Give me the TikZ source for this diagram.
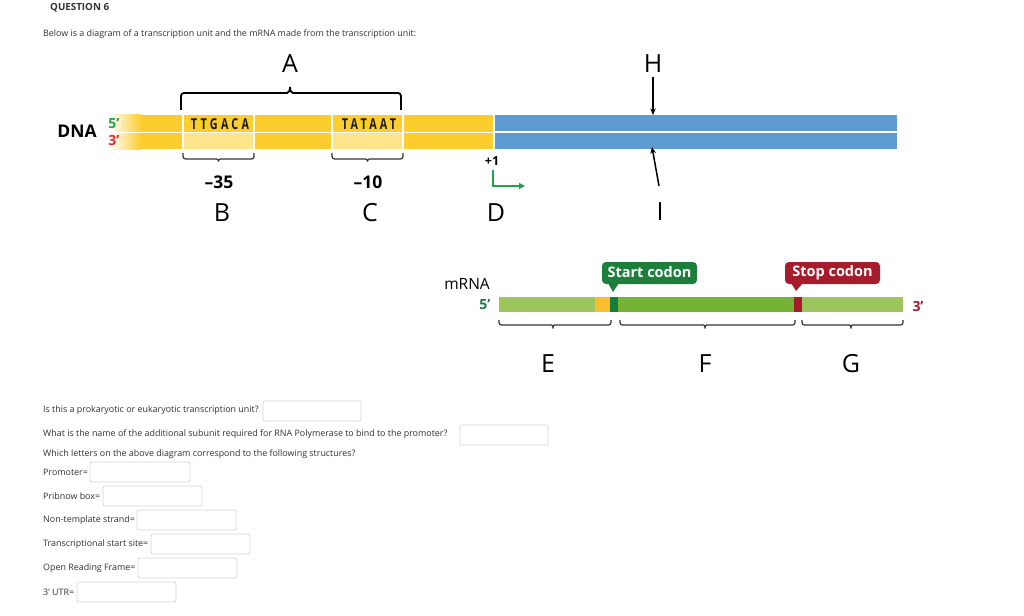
\documentclass[tikz,border=0pt]{standalone}
\usepackage{fontspec}
\setmainfont{Open Sans}
\newfontfamily\seqfont[LetterSpace=30]{Open Sans}
\usetikzlibrary{arrows.meta}
\definecolor{dnay}{HTML}{FDCD2F}
\definecolor{dnayl}{HTML}{FEE58C}
\definecolor{dnab}{HTML}{5E9BD3}
\definecolor{rnal}{HTML}{9CC65C}
\definecolor{rnam}{HTML}{74B334}
\definecolor{rnad}{HTML}{167D39}
\definecolor{rnao}{HTML}{F8BE2C}
\definecolor{codg}{HTML}{1C7F3B}
\definecolor{codr}{HTML}{A61C2C}
\definecolor{pgreen}{HTML}{22A24A}
\definecolor{pred}{HTML}{E3262E}
\definecolor{boxgray}{HTML}{D6D6D6}
\definecolor{qtext}{HTML}{333333}
\newcommand{\seqtext}[1]{\scalebox{0.72}[1]{\seqfont\bfseries\fontsize{15}{16}\selectfont #1}}
\begin{document}
\begin{tikzpicture}[x=1pt,y=-1pt,
  qtxt/.style={anchor=west,inner sep=0pt,font=\fontsize{8.9}{10}\selectfont,text=qtext},
  abox/.style={draw=boxgray,line width=0.7pt,rounded corners=2pt,fill=white},
  biglet/.style={inner sep=0pt,font=\fontsize{25}{28}\selectfont},
  brk/.style={line width=1.8pt,rounded corners=3pt},
  sbrk/.style={line width=1.2pt,draw=black!80,rounded corners=2.5pt},
  seq/.style={inner sep=0pt,text=black!90},
  pnum/.style={inner sep=0pt,font=\bfseries\fontsize{17.5}{19}\selectfont},
  codon/.style={inner sep=0pt,text=white,font=\bfseries\fontsize{14.5}{16}\selectfont},
  sep/.style={white,line width=1.3pt},
  arr/.style={line width=1.5pt,-{Stealth[length=6.5pt,width=5.5pt]}}
]
\useasboundingbox (0,0) rectangle (1024,615);
\fill[white] (0,0) rectangle (1024,615);

% header
\node[anchor=west,inner sep=0pt,font=\bfseries\fontsize{9.8}{11}\selectfont,text=qtext] (q6) at (50,8) {QUESTION 6};
\node[qtxt] (intro) at (43,34) {Below is a diagram of a transcription unit and the mRNA made from the transcription unit:};

% DNA strands
\fill[dnay] (140,115) rectangle (493,131.5);
\fill[dnay] (140,133) rectangle (493,149);
\shade[left color=white,right color=dnay] (110,115) rectangle (141,131.5);
\shade[left color=white,right color=dnay] (110,133) rectangle (141,149);
\fill[dnayl] (183,133) rectangle (254,149);
\fill[dnayl] (332,133) rectangle (403,149);
\fill[dnab] (495,115) rectangle (897,130.5);
\fill[dnab] (495,133) rectangle (897,148.5);
\foreach \x in {183,254,332,403,494}{\draw[sep] (\x,114) -- (\x,150);}
\draw[sep] (110,132.2) -- (898,132.2);

\node[seq] (ttgaca) at (220,124) {\seqtext{TTGACA}};
\node[seq] (tataat) at (369,124) {\seqtext{TATAAT}};

\node[inner sep=0pt,font=\bfseries\fontsize{17.5}{19}\selectfont] (dna) at (77,131) {DNA};
\node[inner sep=0pt,text=pgreen,font=\bfseries\fontsize{14}{15}\selectfont] (p5) at (114,124) {5’};
\node[inner sep=0pt,text=pred,font=\bfseries\fontsize{14}{15}\selectfont] (p3) at (114,140) {3’};

% bracket A
\draw[brk] (181,110) -- (181,93) -- (284,93) .. controls (289,93) and (290,90) .. (290,85)
  .. controls (290,90) and (291,93) .. (296,93) -- (401,93) -- (401,110);
\node[biglet] (A) at (290,64) {A};

% -35 and -10 braces
\draw[sbrk] (183,153) -- (183,159) -- (214,159) .. controls (217,159) and (218.5,160) .. (218.5,163)
  .. controls (218.5,160) and (220,159) .. (223,159) -- (254,159) -- (254,153);
\draw[sbrk] (332,153) -- (332,159) -- (363,159) .. controls (366,159) and (367.5,160) .. (367.5,163)
  .. controls (367.5,160) and (369,159) .. (372,159) -- (403,159) -- (403,153);
\node[pnum] (m35) at (219,182) {–35};
\node[pnum] (m10) at (368,182) {–10};
\node[biglet] (B) at (222,213) {B};
\node[biglet] (C) at (370,213) {C};

% +1 start
\node[inner sep=0pt,font=\bfseries\fontsize{12.5}{14}\selectfont] (plus1) at (492,161) {+1};
\coordinate (tss0) at (493,170);
\coordinate (tss1) at (493,186);
\coordinate (tss2) at (525,186);
\draw[pgreen,line width=1.5pt,-{Triangle[length=6pt,width=6pt]}] (tss0) -- (tss1) -- (tss2);
\node[biglet] (D) at (496,213) {D};

% H and I
\node[biglet] (H) at (653,64) {H};
\coordinate (Htip) at (653,115);
\draw[arr] (H.south) ++(0,4) -- (Htip);
\node[biglet] (I) at (660,212) {I};
\coordinate (Itip) at (652,147);
\draw[arr] (659,186) -- (Itip);

% mRNA
\node[inner sep=0pt,font=\fontsize{15.5}{17}\selectfont] (mrna) at (467,284) {mRNA};
\node[inner sep=0pt,text=codg,font=\bfseries\fontsize{14}{15}\selectfont] (r5) at (485,305) {5’};
\node[inner sep=0pt,text=codr,font=\bfseries\fontsize{14}{15}\selectfont] (r3) at (918,306) {3’};
\fill[rnal] (499,297) rectangle (595,312);
\fill[rnao] (595,297) rectangle (610,312);
\fill[rnad] (610,297) rectangle (618,312);
\fill[rnam] (618,297) rectangle (794,312);
\fill[codr] (794,297) rectangle (802,312);
\fill[rnal] (802,297) rectangle (903,312);

% callouts
\fill[codg,rounded corners=4pt] (602,262) rectangle (697,284);
\fill[codg] (608,283) -- (613,292) -- (619,283) -- cycle;
\node[codon] (start) at (649.5,272.5) {Start codon};
\fill[codr,rounded corners=4pt] (785,262) rectangle (880,284);
\fill[codr] (791,283) -- (796,291) -- (803,283) -- cycle;
\node[codon] (stop) at (832.5,272.5) {Stop codon};

% E F G braces
\draw[sbrk] (499,320) -- (499,325) -- (549,325) .. controls (552,325) and (553,326) .. (553,330)
  .. controls (553,326) and (554,325) .. (557,325) -- (611,325) -- (611,320);
\draw[sbrk] (620,320) -- (620,325) -- (701,325) .. controls (704,325) and (705,326) .. (705,330)
  .. controls (705,326) and (706,325) .. (709,325) -- (795,325) -- (795,320);
\draw[sbrk] (802,320) -- (802,325) -- (847,325) .. controls (850,325) and (851,326) .. (851,330)
  .. controls (851,326) and (852,325) .. (855,325) -- (903,325) -- (903,320);
\node[biglet] (E) at (548,364) {E};
\node[biglet] (F) at (705,364) {F};
\node[biglet] (G) at (851,364) {G};

% questions
\node[qtxt] (q1) at (43,410) {Is this a prokaryotic or eukaryotic transcription unit?};
\draw[abox] (263,401) rectangle (361,421);
\node[qtxt] (q2) at (43,434) {What is the name of the additional subunit required for RNA Polymerase to bind to the promoter?};
\draw[abox] (460,425) rectangle (548,445);
\node[qtxt] (q3) at (43,454) {Which letters on the above diagram correspond to the following structures?};
\node[qtxt] (q4) at (43,472) {Promoter=};
\draw[abox] (90,462) rectangle (190,482);
\node[qtxt] (q5) at (43,496) {Pribnow box=};
\draw[abox] (103,486) rectangle (202,506);
\node[qtxt] (q6b) at (43,520) {Non-template strand=};
\draw[abox] (137,510) rectangle (236,530);
\node[qtxt] (q7) at (43,544) {Transcriptional start site=};
\draw[abox] (151,534) rectangle (250,554);
\node[qtxt] (q8) at (43,568) {Open Reading Frame=};
\draw[abox] (138,558) rectangle (237,578);
\node[qtxt] (q9) at (43,592) {3' UTR=};
\draw[abox] (77,582) rectangle (176,602);
\end{tikzpicture}
\end{document}
